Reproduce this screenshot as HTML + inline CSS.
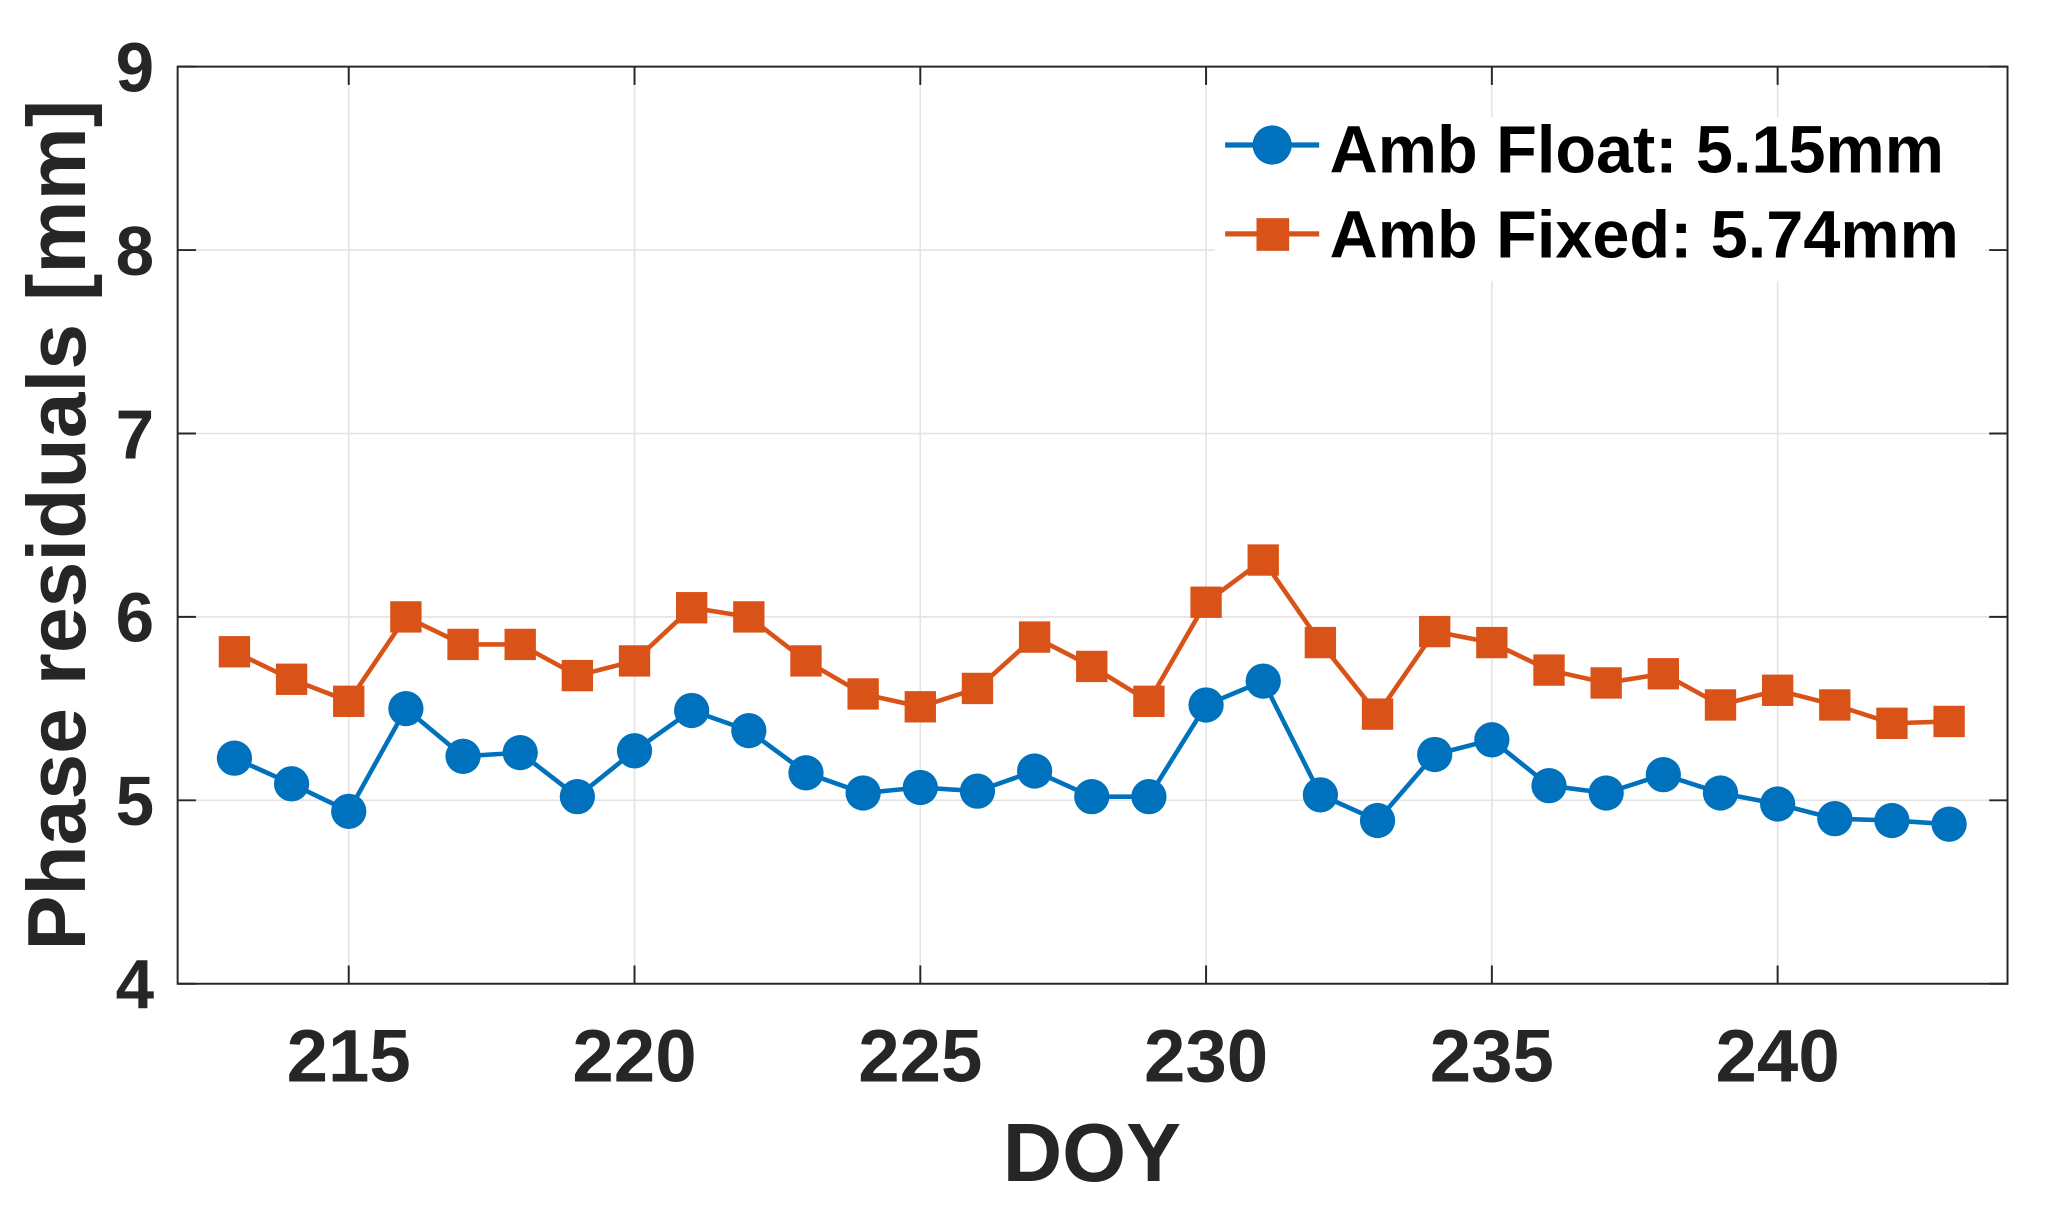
<!DOCTYPE html>
<html><head><meta charset="utf-8"><style>
html,body{margin:0;padding:0;background:#fff;width:2048px;height:1215px;overflow:hidden}
svg{display:block}
text{font-family:"Liberation Sans",Arial,sans-serif;font-weight:bold}
</style></head><body>
<svg id="s" width="2048" height="1215" viewBox="0 0 1568 930" preserveAspectRatio="none" xmlns="http://www.w3.org/2000/svg">
<rect x="0" y="0" width="1568" height="930" fill="#fff"/>
<g id="grid" stroke="#e3e3e3" stroke-width="1.2"></g>
<rect x="930" y="90" width="590" height="125" fill="#fff"/>
<g id="data"></g>
<rect x="136" y="51" width="1401" height="702" fill="none" stroke="#262626" stroke-width="1.5"/>
<g id="ticks" stroke="#262626" stroke-width="1.5"></g>
<g id="labels" fill="#262626"></g>
<text x="836" y="904" font-size="63" text-anchor="middle" fill="#262626">DOY</text>
<text transform="translate(65,402) rotate(-90)" font-size="63" text-anchor="middle" fill="#262626">Phase residuals [mm]</text>
<line x1="938" y1="111" x2="1010" y2="111" stroke="#0072BD" stroke-width="4"/>
<circle cx="974" cy="111" r="15" fill="#0072BD"/>
<text x="1018" y="132" font-size="51" fill="#000">Amb Float: 5.15mm</text>
<line x1="938" y1="179" x2="1010" y2="179" stroke="#D95319" stroke-width="4"/>
<rect x="962" y="167" width="25" height="25" fill="#D95319"/>
<text x="1018" y="197" font-size="51" fill="#000">Amb Fixed: 5.74mm</text>
</svg>
<script>
var NS="http://www.w3.org/2000/svg";
function X(d){return 267+(d-215)*43.76;}
function Y(v){return 753-(v-4)*140.4;}
function el(p,t,a){var e=document.createElementNS(NS,t);for(var k in a)e.setAttribute(k,a[k]);document.getElementById(p).appendChild(e);return e;}
for(var d=215;d<=240;d+=5){el("grid","line",{x1:X(d),y1:51,x2:X(d),y2:753});
el("ticks","line",{x1:X(d),y1:753,x2:X(d),y2:739});el("ticks","line",{x1:X(d),y1:51,x2:X(d),y2:65});
var t=el("labels","text",{x:X(d),y:828,"font-size":57,"text-anchor":"middle"});t.textContent=d;}
for(var v=4;v<=9;v++){el("grid","line",{x1:136,y1:Y(v),x2:1537,y2:Y(v)});
el("ticks","line",{x1:136,y1:Y(v),x2:150,y2:Y(v)});el("ticks","line",{x1:1537,y1:Y(v),x2:1523,y2:Y(v)});
var t=el("labels","text",{x:118,y:Y(v)+19,"font-size":53,"text-anchor":"end"});t.textContent=v;}
var b=[5.23,5.09,4.94,5.50,5.24,5.26,5.02,5.27,5.49,5.38,5.15,5.04,5.07,5.05,5.16,5.02,5.02,5.52,5.65,5.03,4.89,5.25,5.33,5.08,5.04,5.14,5.04,4.98,4.90,4.89,4.87];
var o=[5.81,5.66,5.54,6.00,5.85,5.85,5.68,5.76,6.05,6.00,5.76,5.58,5.51,5.61,5.89,5.73,5.54,6.08,6.31,5.86,5.47,5.92,5.86,5.71,5.64,5.69,5.52,5.60,5.52,5.42,5.43];
function pts(a){return a.map(function(v,i){return X(213+i)+","+Y(v);}).join(" ");}
el("data","polyline",{points:pts(o),fill:"none",stroke:"#D95319","stroke-width":3.5});
o.forEach(function(v,i){el("data","rect",{x:X(213+i)-12,y:Y(v)-12,width:24,height:24,fill:"#D95319"});});
el("data","polyline",{points:pts(b),fill:"none",stroke:"#0072BD","stroke-width":3.5});
b.forEach(function(v,i){el("data","circle",{cx:X(213+i),cy:Y(v),r:13.5,fill:"#0072BD"});});
</script>
</body></html>
